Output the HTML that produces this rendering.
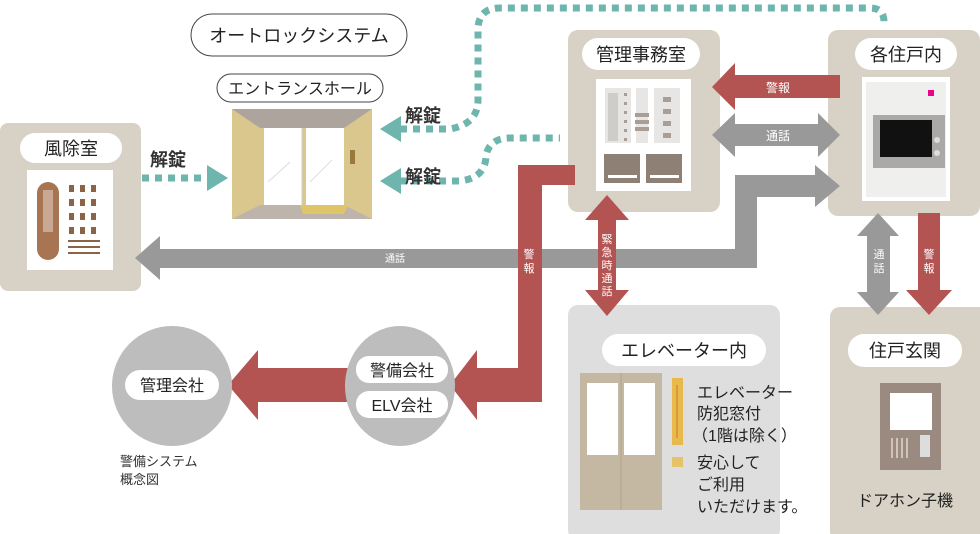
<!DOCTYPE html>
<html><head><meta charset="utf-8"><style>
html,body{margin:0;padding:0;background:#fff;}
svg{display:block;font-family:"Liberation Sans","Noto Sans CJK JP",sans-serif;}
</style></head><body>
<svg width="980" height="534" viewBox="0 0 980 534" xmlns="http://www.w3.org/2000/svg">
<defs>
<marker id="th" markerWidth="4" markerHeight="4" refX="0" refY="2" orient="auto" markerUnits="userSpaceOnUse"></marker>
</defs>
<!-- teal dotted paths -->
<g fill="none" stroke="#6db5ad" stroke-width="7" stroke-dasharray="7 6">
<path d="M400 129 H450 Q478 124 478 100 V30 Q478 8 500 8 H870 Q884 8 884 22"/>
<path d="M400 181 H460 Q486 178 486 155 Q490 138 510 138 H560"/>
<path d="M142 178 H208"/>
</g>
<g fill="#6db5ad">
<polygon points="380,129 401,116 401,142"/>
<polygon points="380,181 401,168 401,194"/>
<polygon points="228,178 207,165 207,191"/>
</g>
<g font-size="18" fill="#333" font-weight="bold">
<text x="405" y="122">解錠</text>
<text x="405" y="183">解錠</text>
<text x="150" y="166">解錠</text>
</g>

<!-- boxes -->
<rect x="0" y="123" width="141" height="168" rx="8" fill="#d8d2c6"/>
<rect x="568" y="30" width="152" height="182" rx="10" fill="#d8d2c6"/>
<rect x="828" y="30" width="152" height="186" rx="10" fill="#d8d2c6"/>
<rect x="568" y="305" width="212" height="235" rx="10" fill="#dedede"/>
<rect x="830" y="307" width="160" height="235" rx="10" fill="#d8d2c6"/>

<!-- gray 通話 long arrow -->
<path d="M158 249 H735 V175 H815 V268 H158 Z" fill="none"/>
<polygon fill="#999" points="135,258 160,236 160,249 735,249 735,175 815,175 815,165 840,186 815,207 815,197 757,197 757,268 160,268 160,280"/>
<text x="395" y="262" font-size="10" fill="#fff" text-anchor="middle">通話</text>

<!-- red 警報 L path from office to ELV -->
<polygon fill="#b35352" points="575,165 575,185 542,185 542,402 477,402 477,420 450,385 477,350 477,368 518,368 518,165"/>
<text x="529" y="258" font-size="11" fill="#fff" text-anchor="middle">警</text>
<text x="529" y="272" font-size="11" fill="#fff" text-anchor="middle">報</text>

<!-- red from ELV to 管理会社 -->
<polygon fill="#b35352" points="350,368 258,368 258,350 228,385 258,420 258,402 350,402"/>

<!-- red 警報 top -->
<polygon fill="#b35352" points="840,75 735,75 735,63 712,87 735,110 735,98 840,98"/>
<text x="778" y="92" font-size="12" fill="#fff" text-anchor="middle">警報</text>
<!-- gray 通話 double -->
<polygon fill="#999" points="712,135 735,113 735,124 818,124 818,113 840,135 818,157 818,146 735,146 735,157"/>
<text x="778" y="140" font-size="12" fill="#fff" text-anchor="middle">通話</text>

<!-- emergency vertical double red -->
<polygon fill="#b35352" points="607,195 629,220 616,220 616,290 629,290 607,316 585,290 598,290 598,220 585,220"/>
<g font-size="11" fill="#fff" text-anchor="middle">
<text x="607" y="243">緊</text><text x="607" y="256">急</text><text x="607" y="269">時</text><text x="607" y="282">通</text><text x="607" y="295">話</text>
</g>

<!-- gray vertical under 各住戸 -->
<polygon fill="#999" points="878,213 899,236 890,236 890,292 899,292 878,315 857,292 867,292 867,236 857,236"/>
<text x="879" y="258" font-size="11" fill="#fff" text-anchor="middle">通</text>
<text x="879" y="272" font-size="11" fill="#fff" text-anchor="middle">話</text>
<!-- red down -->
<polygon fill="#b35352" points="918,213 940,213 940,290 952,290 929,315 906,290 918,290"/>
<text x="929" y="258" font-size="11" fill="#fff" text-anchor="middle">警</text>
<text x="929" y="272" font-size="11" fill="#fff" text-anchor="middle">報</text>

<!-- pills -->
<g fill="#fff">
<rect x="20" y="133" width="102" height="30" rx="15"/>
<rect x="582" y="38" width="118" height="32" rx="16"/>
<rect x="855" y="38" width="102" height="32" rx="16"/>
<rect x="602" y="334" width="164" height="32" rx="16"/>
<rect x="848" y="334" width="114" height="33" rx="16"/>
</g>
<rect x="191" y="14" width="216" height="42" rx="21" fill="#fff" stroke="#444" stroke-width="1"/>
<rect x="217" y="74" width="166" height="28" rx="14" fill="#fff" stroke="#444" stroke-width="1"/>
<g font-size="18" fill="#222" text-anchor="middle">
<text x="299" y="42">オートロックシステム</text>
<text x="71" y="155">風除室</text>
<text x="641" y="61">管理事務室</text>
<text x="906" y="61">各住戸内</text>
<text x="684" y="357">エレベーター内</text>
<text x="905" y="357">住戸玄関</text>
</g>
<text x="300" y="94" font-size="16" fill="#222" text-anchor="middle">エントランスホール</text>

<!-- 風除室 panel -->
<rect x="27" y="170" width="86" height="100" fill="#fff"/>
<rect x="37" y="182" width="22" height="78" rx="11" fill="#a87553"/>
<rect x="43" y="190" width="10" height="42" fill="#c9a994"/>
<g fill="#8b6448">
<rect x="69" y="185" width="5" height="7"/><rect x="80" y="185" width="5" height="7"/><rect x="91" y="185" width="5" height="7"/>
<rect x="69" y="199" width="5" height="7"/><rect x="80" y="199" width="5" height="7"/><rect x="91" y="199" width="5" height="7"/>
<rect x="69" y="213" width="5" height="7"/><rect x="80" y="213" width="5" height="7"/><rect x="91" y="213" width="5" height="7"/>
<rect x="69" y="227" width="5" height="7"/><rect x="80" y="227" width="5" height="7"/><rect x="91" y="227" width="5" height="7"/>
<rect x="68" y="240" width="32" height="2"/><rect x="68" y="246" width="32" height="2"/><rect x="68" y="252" width="32" height="2"/>
</g>

<!-- entrance hall -->
<rect x="232" y="109" width="140" height="110" fill="#d9c78e"/>
<polygon points="232,109 372,109 344,128 260,128" fill="#ada49d"/>
<polygon points="232,219 372,219 344,205 260,205" fill="#bdb4ac"/>
<rect x="264" y="128" width="38" height="77" fill="#fff"/><rect x="306" y="128" width="38" height="77" fill="#fff"/>
<line x1="302" y1="128" x2="302" y2="205" stroke="#ccc"/>
<polygon points="300,205 348,205 344,214 303,214" fill="#e0c468"/>
<rect x="350" y="150" width="5" height="14" fill="#9a7a3a"/>
<line x1="268" y1="182" x2="290" y2="162" stroke="#ddd"/><line x1="310" y1="182" x2="332" y2="160" stroke="#ddd"/>

<!-- office panel -->
<rect x="596" y="79" width="95" height="112" fill="#fff"/>
<rect x="605" y="88" width="26" height="55" fill="#e7e6e4"/><rect x="608" y="93" width="10" height="48" fill="#cfcdca"/>
<rect x="636" y="88" width="12" height="55" fill="#e7e6e4"/>
<rect x="654" y="88" width="26" height="55" fill="#e7e6e4"/>
<g fill="#a89e95"><rect x="624" y="93" width="3" height="3"/><rect x="624" y="102" width="3" height="3"/><rect x="624" y="111" width="3" height="3"/><rect x="624" y="120" width="3" height="3"/><rect x="624" y="129" width="3" height="3"/><rect x="624" y="138" width="3" height="3"/>
<rect x="635" y="113" width="14" height="4"/><rect x="635" y="120" width="14" height="4"/><rect x="635" y="127" width="14" height="4"/>
<rect x="663" y="97" width="8" height="5"/><rect x="663" y="109" width="8" height="5"/><rect x="663" y="121" width="8" height="5"/><rect x="663" y="133" width="8" height="5"/></g>
<rect x="604" y="154" width="36" height="29" fill="#8f8075"/><rect x="646" y="154" width="36" height="29" fill="#8f8075"/>
<rect x="608" y="175" width="29" height="3" fill="#fff"/><rect x="650" y="175" width="29" height="3" fill="#fff"/>

<!-- unit panel -->
<rect x="862" y="77" width="88" height="124" fill="#fff"/>
<rect x="866" y="82" width="80" height="115" fill="#efefed"/>
<rect x="873" y="115" width="72" height="53" fill="#aaa9a7"/>
<rect x="880" y="120" width="52" height="37" fill="#111"/>
<circle cx="937" cy="140" r="3" fill="#ddd"/><circle cx="937" cy="153" r="3" fill="#ddd"/>
<rect x="928" y="90" width="6" height="6" fill="#e08"/>

<!-- circles -->
<ellipse cx="172" cy="386" rx="60" ry="60" fill="#bdbdbd"/>
<ellipse cx="400" cy="386" rx="55" ry="60" fill="#bdbdbd"/>
<rect x="125" y="370" width="94" height="30" rx="15" fill="#fff"/>
<rect x="356" y="356" width="92" height="27" rx="13" fill="#fff"/>
<rect x="356" y="391" width="92" height="27" rx="13" fill="#fff"/>
<g font-size="16" fill="#222" text-anchor="middle">
<text x="172" y="391">管理会社</text>
<text x="402" y="376">警備会社</text>
<text x="402" y="411">ELV会社</text>
</g>
<text x="120" y="466" font-size="13" fill="#333">警備システム</text>
<text x="120" y="484" font-size="13" fill="#333">概念図</text>

<!-- elevator -->
<rect x="580" y="373" width="82" height="137" fill="#c4b8a3"/>
<rect x="584" y="373" width="74" height="8" fill="#c4b8a3"/>
<line x1="621" y1="373" x2="621" y2="510" stroke="#b0a38d"/>
<rect x="587" y="383" width="31" height="72" fill="#fff"/><rect x="624" y="383" width="31" height="72" fill="#fff"/>
<rect x="672" y="378" width="11" height="67" fill="#e9b94c"/><line x1="677" y1="385" x2="677" y2="438" stroke="#c07a2a"/>
<rect x="672" y="457" width="11" height="10" fill="#e6c26a"/>
<g font-size="16" fill="#222">
<text x="697" y="398">エレベーター</text>
<text x="697" y="419">防犯窓付</text>
<text x="692" y="441">（1階は除く）</text>
<text x="697" y="468">安心して</text>
<text x="697" y="490">ご利用</text>
<text x="697" y="512">いただけます。</text>
</g>

<!-- door phone -->
<rect x="880" y="383" width="61" height="87" fill="#9a8a80"/>
<rect x="890" y="393" width="42" height="37" fill="#fff"/>
<g fill="#cfc5bd"><rect x="891" y="438" width="2" height="20"/><rect x="896" y="438" width="2" height="20"/><rect x="901" y="438" width="2" height="20"/><rect x="906" y="438" width="2" height="20"/></g>
<rect x="920" y="435" width="10" height="22" fill="#ddd"/>
<text x="905" y="506" font-size="16" fill="#222" text-anchor="middle">ドアホン子機</text>
</svg>
</body></html>
